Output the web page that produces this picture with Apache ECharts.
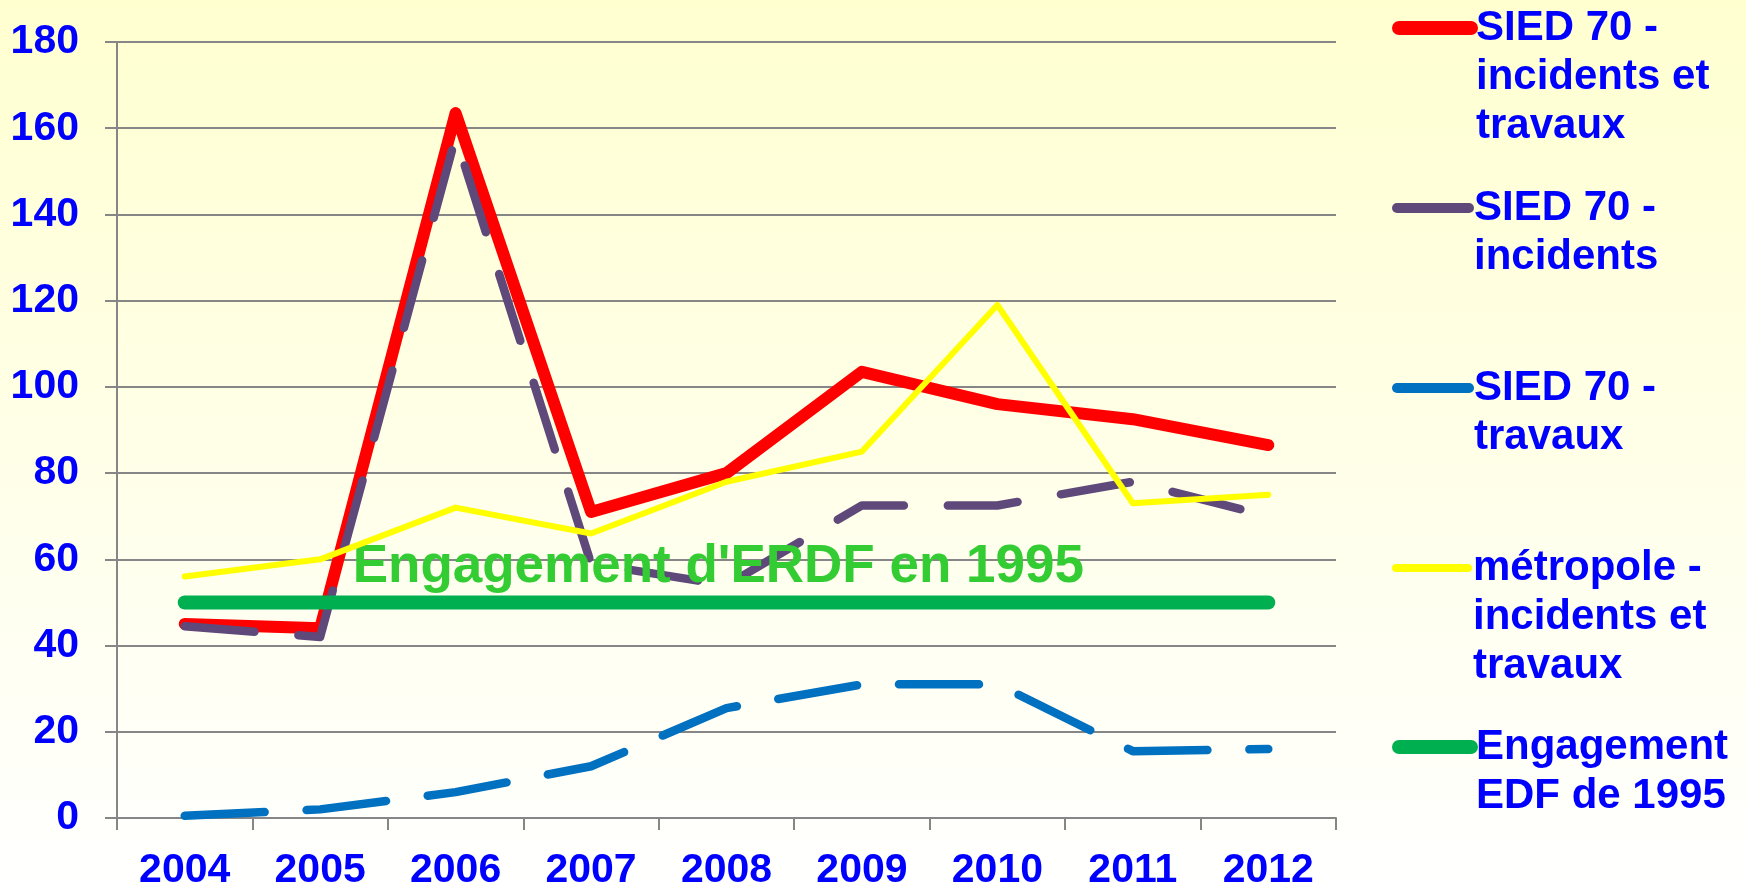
<!DOCTYPE html>
<html>
<head>
<meta charset="utf-8">
<script src="https://cdn.jsdelivr.net/npm/echarts@6/dist/echarts.min.js"></script>
<style>
html,body{margin:0;padding:0;}
#chart{width:1746px;height:887px;}
</style>
</head>
<body>
<div id="chart"></div>
<script>
const categories = ['2004','2005','2006','2007','2008','2009','2010','2011','2012'];
const siedTotal = [45, 44, 163.5, 71, 80, 103.5, 96, 92.5, 86.5];
const siedIncidents = [44.5, 42, 158, 59, 54, 72.5, 72.5, 78, 70];
const siedTravaux = [0.5, 2, 6, 12, 25.5, 31, 31, 15.5, 16];
const metropole = [56, 60, 72, 66, 78, 85, 119, 73, 75];
const engagement = [50, 50, 50, 50, 50, 50, 50, 50, 50];
const yTicks = {min: 0, max: 180, interval: 20};
const annotationText = "Engagement d'ERDF en 1995";
const names = [
  ['SIED 70 -', 'incidents et', 'travaux'],
  ['SIED 70 -', 'incidents'],
  ['SIED 70 -', 'travaux'],
  ['métropole -', 'incidents et', 'travaux'],
  ['Engagement', 'EDF de 1995']
];
const seriesNames = names.map(n => n.join(' '));
const colors = ['#FF0000', '#5F497A', '#0070C0', '#FFFF00', '#00B050'];
const widths = [12, 8.5, 8.5, 6, 14];
const legendWidths = [14, 10, 10, 8, 14];
const legendCenters = [28, 208, 388, 568, 747];

const FONT = "'Liberation Sans', Arial, sans-serif";
const LH = 49;
const chart = echarts.init(document.getElementById('chart'));

const legends = names.map((lines, i) => {
  const n = lines.length;
  const blockH = (2 * n - 1) * LH;
  return {
    show: true,
    orient: 'vertical',
    left: 1392,
    top: legendCenters[i] - blockH / 2,
    padding: 0,
    itemWidth: 72,
    itemHeight: 2,
    selectedMode: false,
    data: [seriesNames[i]],
    formatter: () => '\n'.repeat(n - 1) + lines.join('\n'),
    itemStyle: {color: 'rgba(0,0,0,0)', borderColor: 'rgba(0,0,0,0)', borderWidth: 0},
    lineStyle: {width: legendWidths[i], type: 'solid', cap: 'round', color: colors[i]},
    textStyle: {
      color: '#0000FF', fontSize: 42, fontWeight: 'bold', fontFamily: FONT, lineHeight: LH
    }
  };
});

const dataSets = [siedTotal, siedIncidents, siedTravaux, metropole, engagement];
const dashes = [null, [70, 44], [80, 42], null, null];

const series = dataSets.map((d, i) => {
  const s = {
    name: seriesNames[i],
    type: 'line',
    data: d,
    symbol: 'none',
    color: colors[i],
    lineStyle: {
      color: colors[i], width: widths[i],
      type: dashes[i] ? dashes[i] : 'solid',
      cap: 'round', join: 'round'
    },
    z: 2 + i
  };
  if (i === 4) {
    s.markPoint = {
      silent: true,
      symbol: 'circle',
      symbolSize: 1,
      itemStyle: {color: 'rgba(0,0,0,0)'},
      data: [{
        coord: ['2005', 58.2],
        label: {
          show: true,
          position: 'right',
          distance: 32,
          formatter: annotationText,
          color: '#33CC33',
          fontSize: 53,
          fontWeight: 'bold',
          fontFamily: FONT
        }
      }]
    };
  }
  return s;
});

chart.setOption({
  animation: false,
  backgroundColor: {
    type: 'linear', x: 0, y: 0, x2: 0, y2: 1,
    colorStops: [{offset: 0, color: '#FFFFD0'}, {offset: 1, color: '#FFFFFF'}]
  },
  legend: legends,
  grid: {left: 117, right: 410, top: 42, bottom: 69, containLabel: false, outerBoundsMode: 'none'},
  xAxis: {
    type: 'category',
    data: categories,
    boundaryGap: true,
    axisLine: {show: true, lineStyle: {color: '#868686', width: 2}},
    axisTick: {show: true, length: 12, alignWithLabel: false, lineStyle: {color: '#868686', width: 2}},
    axisLabel: {
      margin: 32, color: '#0000FF', fontSize: 41, fontWeight: 'bold', fontFamily: FONT
    },
    splitLine: {show: false}
  },
  yAxis: {
    type: 'value',
    min: yTicks.min, max: yTicks.max, interval: yTicks.interval,
    axisLine: {show: true, lineStyle: {color: '#868686', width: 2}},
    axisTick: {show: true, length: 12, lineStyle: {color: '#868686', width: 2}},
    axisLabel: {
      margin: 38, color: '#0000FF', fontSize: 41, fontWeight: 'bold', fontFamily: FONT
    },
    splitLine: {show: true, lineStyle: {color: '#868686', width: 2}}
  },
  series: series
});
</script>
</body>
</html>
